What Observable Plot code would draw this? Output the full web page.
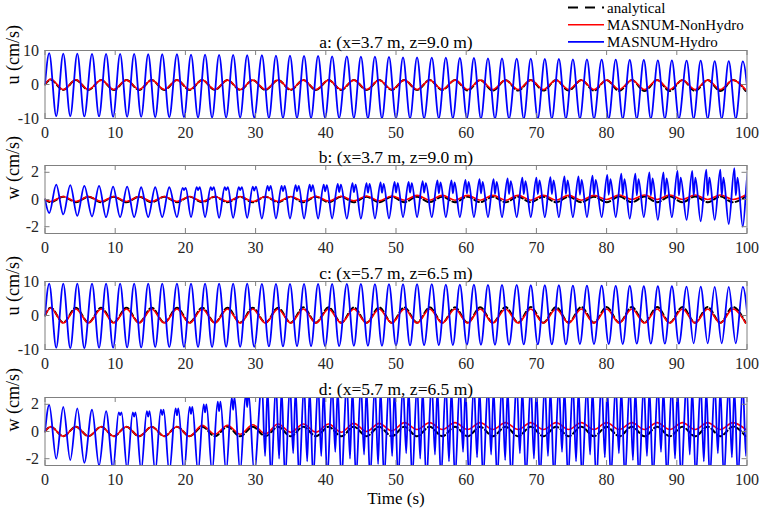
<!DOCTYPE html>
<html><head><meta charset="utf-8">
<script src="https://cdn.jsdelivr.net/npm/d3@7"></script>
<script src="https://cdn.jsdelivr.net/npm/@observablehq/plot@0.6"></script>
<style>
body{margin:0;background:#fff;}
#chart{position:relative;width:760px;height:509px;overflow:hidden;font-family:"Liberation Serif","Times New Roman",serif;}
.panel{position:absolute;left:0;}
#legend{position:absolute;left:0;top:0;}
</style></head><body><div id="chart"></div>
<script>
// ---------- shared axis values ----------
const timeTicks = [0,10,20,30,40,50,60,70,80,90,100];
const uTicks = [-10,0,10];
const wTicks = [-2,0,2];
const titles = ["a: (x=3.7 m, z=9.0 m)","b: (x=3.7 m, z=9.0 m)","c: (x=5.7 m, z=6.5 m)","d: (x=5.7 m, z=6.5 m)"];
const yLabels = ["u (cm/s)","w (cm/s)","u (cm/s)","w (cm/s)"];
const seriesNames = ["analytical","MASNUM-NonHydro","MASNUM-Hydro"];

// times of the Hydro wave crests (s)
const crestT = [0.6,2.6,4.6,6.7,8.7,10.7,12.7,14.7,16.7,18.8,20.8,22.8,24.8,26.8,28.8,30.9,32.9,34.9,36.9,38.9,
  40.9,43.0,45.0,47.0,49.0,51.0,53.0,55.1,57.1,59.1,61.1,63.1,65.1,67.2,69.2,71.2,73.2,75.2,77.2,79.3,
  81.3,83.3,85.3,87.3,89.3,91.4,93.4,95.4,97.4,99.4];
// times of NonHydro / analytical extrema (s)
const nhT = [0.8,2.6,4.4,6.2,8.0,9.8,11.6,13.4,15.2,17.0,18.8,20.6,22.4,24.2,26.0,27.8,29.6,31.4,33.2,35.0,
  36.8,38.6,40.4,42.2,44.0,45.8,47.6,49.4,51.2,53.0,54.8,56.6,58.4,60.2,62.0,63.8,65.6,67.4,69.2,71.0,
  72.8,74.6,76.4,78.2,80.0,81.8,83.6,85.4,87.2,89.0,90.8,92.6,94.4,96.2,98.0,99.8];

// ---------- panel a ----------
const aHydroCrest = [9.2,9.1,9.1,9.0,9.0,9.0,9.0,8.9,8.9,8.9,8.8,8.8,8.7,8.7,8.6,8.6,8.5,8.5,8.4,8.4,
  8.3,8.3,8.2,8.2,8.1,8.0,8.0,7.9,7.9,7.8,7.8,7.7,7.7,7.6,7.6,7.5,7.5,7.4,7.4,7.3,
  7.3,7.2,7.2,7.1,7.1,7.0,7.0,6.9,6.9,6.8];
const aHydroTrough = [-9.3,-9.3,-9.4,-9.4,-9.5,-9.5,-9.5,-9.6,-9.6,-9.6,-9.7,-9.7,-9.7,-9.7,-9.7,-9.8,-9.8,-9.8,-9.8,-9.8,
  -9.8,-9.8,-9.9,-9.9,-9.9,-9.9,-9.9,-9.9,-9.9,-9.9,-10,-10,-10,-10,-10,-10,-10,-10,-10,-10,
  -10,-10,-10,-10,-10,-10,-10,-10,-10,-10];
const aNonHydro = [1.6,-1.5,1.4,-1.5,1.3,-1.5,1.3,-1.5,1.3,-1.5,1.3,-1.5,1.3,-1.5,1.3,-1.5,1.3,-1.5,1.3,-1.5,
  1.3,-1.5,1.3,-1.5,1.3,-1.5,1.3,-1.5,1.3,-1.5,1.3,-1.5,1.3,-1.5,1.3,-1.5,1.3,-1.5,1.3,-1.5,
  1.3,-1.5,1.3,-1.5,1.3,-1.5,1.3,-1.5,1.3,-1.5,1.3,-1.5,1.3,-1.5,1.3,-1.5];
const aAnalytical = [1.4,-1.6,1.3,-1.6,1.3,-1.6,1.3,-1.6,1.3,-1.6,1.3,-1.6,1.3,-1.6,1.3,-1.6,1.3,-1.6,1.3,-1.6,
  1.3,-1.6,1.3,-1.6,1.3,-1.6,1.3,-1.6,1.3,-1.6,1.3,-1.6,1.3,-1.8,1.3,-1.8,1.3,-1.8,1.3,-1.8,
  1.3,-1.8,1.3,-1.8,1.3,-1.9,1.3,-1.9,1.3,-1.9,1.3,-1.9,1.3,-1.9,1.3,-1.9];

// ---------- panel b (trough first, then a crest that splits into two spikes) ----------
const bHydroTrough = [-1.0,-1.1,-1.2,-1.25,-1.3,-1.3,-1.3,-1.3,-1.3,-1.3,-1.3,-1.3,-1.35,-1.35,-1.35,-1.4,-1.4,-1.4,-1.4,-1.4,
  -1.4,-1.4,-1.4,-1.4,-1.4,-1.3,-1.3,-1.3,-1.3,-1.3,-1.3,-1.3,-1.3,-1.3,-1.3,-1.3,-1.3,-1.3,-1.3,-1.3,
  -1.3,-1.4,-1.3,-1.5,-1.3,-1.5,-1.6,-1.5,-1.8,-2.0];
const bHydroPeakA = [1.1,1.05,1.0,1.0,0.95,0.95,0.9,0.9,0.9,0.85,0.9,0.9,0.9,0.9,0.95,1.0,1.0,1.05,1.1,1.1,
  1.15,1.2,1.2,1.25,1.3,1.3,1.35,1.4,1.4,1.45,1.5,1.5,1.55,1.6,1.6,1.65,1.7,1.7,1.75,1.8,
  1.9,1.9,2.0,2.0,2.1,2.1,2.2,2.2,2.3,2.4];
const bHydroNotch = [null,null,null,null,null,null,null,null,null,0.7,0.7,0.7,0.7,0.7,0.65,0.65,0.6,0.6,0.6,0.6,
  0.55,0.55,0.5,0.5,0.5,0.5,0.5,0.45,0.45,0.45,0.45,0.4,0.4,0.4,0.4,0.4,0.4,0.35,0.35,0.35,
  0.35,0.3,0.3,0.3,0.3,0.3,0.3,0.3,0.3,0.3];
const bHydroPeakB = [null,null,null,null,null,null,null,null,null,0.85,0.9,0.9,0.9,0.9,0.95,1.0,1.0,1.0,1.05,1.05,
  1.1,1.1,1.15,1.15,1.2,1.2,1.2,1.25,1.25,1.3,1.3,1.3,1.35,1.35,1.4,1.4,1.4,1.45,1.45,1.5,
  1.5,1.5,1.55,1.55,1.6,1.6,1.6,1.6,1.6,1.6];
const bNonHydro = [-0.15,0.22,-0.15,0.22,-0.15,0.22,-0.15,0.22,-0.15,0.22,-0.15,0.22,-0.15,0.22,-0.15,0.22,-0.15,0.22,-0.15,0.22,
  -0.12,0.24,-0.12,0.24,-0.1,0.26,-0.1,0.26,-0.05,0.3,-0.05,0.3,-0.05,0.3,-0.05,0.3,-0.05,0.3,-0.05,0.3,
  -0.05,0.3,-0.05,0.3,0.0,0.33,0.0,0.33,0.0,0.33,0.0,0.33,0.0,0.33,0.0,0.33];
const bAnalytical = [-0.2,0.2,-0.2,0.2,-0.2,0.2,-0.2,0.2,-0.2,0.2,-0.2,0.2,-0.2,0.2,-0.2,0.2,-0.2,0.2,-0.2,0.2,
  -0.2,0.2,-0.2,0.2,-0.2,0.2,-0.2,0.2,-0.2,0.2,-0.2,0.2,-0.2,0.2,-0.2,0.2,-0.2,0.2,-0.2,0.2,
  -0.2,0.2,-0.2,0.2,-0.2,0.22,-0.2,0.22,-0.2,0.22,-0.2,0.22,-0.2,0.22,-0.2,0.22];

// ---------- panel c ----------
const cHydroCrest = [9.4,9.4,9.4,9.4,9.4,9.4,9.4,9.4,9.4,9.4,9.4,9.4,9.4,9.4,9.4,9.3,9.3,9.3,9.3,9.3,
  9.3,9.3,9.3,9.2,9.2,9.2,9.2,9.2,9.1,9.1,9.1,9.0,9.0,9.0,8.9,8.9,8.9,8.8,8.8,8.8,
  8.7,8.7,8.6,8.6,8.6,8.5,8.5,8.4,8.4,8.4];
const cHydroTrough = [-9.5,-9.6,-9.6,-9.5,-9.5,-9.4,-9.4,-9.3,-9.3,-9.3,-9.3,-9.3,-9.2,-9.2,-9.2,-9.1,-9.1,-9.0,-9.0,-9.0,
  -9.0,-8.9,-8.9,-8.9,-8.8,-8.8,-8.7,-8.7,-8.7,-8.6,-8.6,-8.6,-8.6,-8.5,-8.5,-8.5,-8.5,-8.4,-8.4,-8.4,
  -8.4,-8.3,-8.3,-8.3,-8.3,-8.2,-8.2,-8.2,-8.2,-8.2];
const cNonHydro = [2.2,-2.2,1.9,-2.2,1.9,-2.2,1.9,-2.2,1.9,-2.2,1.9,-2.2,1.9,-2.2,1.9,-2.2,1.9,-2.2,1.9,-2.2,
  1.9,-2.2,1.9,-2.2,1.9,-2.2,1.9,-2.2,1.9,-2.2,1.9,-2.2,1.9,-2.2,1.9,-2.2,1.9,-2.2,1.9,-2.2,
  1.9,-2.2,1.9,-2.2,1.9,-2.2,1.9,-2.2,1.9,-2.2,1.9,-2.2,1.9,-2.2,1.9,-2.2];
const cAnalytical = [2.3,-2.1,2.3,-2.1,2.3,-2.1,2.3,-2.1,2.3,-2.1,2.3,-2.1,2.3,-2.1,2.3,-2.1,2.3,-2.1,2.3,-2.1,
  2.4,-2.1,2.4,-2.1,2.4,-2.1,2.4,-2.1,2.4,-2.1,2.4,-2.1,2.4,-2.1,2.4,-2.1,2.5,-2.1,2.5,-2.1,
  2.5,-2.1,2.5,-2.1,2.5,-2.1,2.5,-2.1,2.5,-2.1,2.5,-2.1,2.5,-2.1,2.5,-2.1];

// ---------- panel d ----------
const dHydroCrest = [1.95,1.8,1.7,1.6,1.5,1.4,1.4,1.5,1.6,1.7,1.8,2.0,2.2,2.5,2.8,3.5,3.5,3.5,3.5,3.5,
  3.5,3.5,3.5,3.5,3.5,3.5,3.5,3.5,3.5,3.5,3.5,3.5,3.5,3.5,3.5,3.5,3.5,3.5,3.5,3.5,
  3.5,3.5,3.5,3.5,3.5,3.5,3.5,3.5,3.5,3.5];
const dHydroNotch = [null,null,null,null,null,1.2,1.1,1.1,1.2,1.2,1.3,1.4,1.5,1.6,1.8,null,null,null,null,null,
  null,null,null,null,null,null,null,null,null,null,null,null,null,null,null,null,null,null,null,null,
  null,null,null,null,null,null,null,null,null,null];
const dHydroMidTrough = [null,null,null,null,null,null,null,null,null,null,null,null,null,null,null,-1.8,-2.0,-1.6,-2.2,-1.8,
  -1.5,-2.0,-1.7,-2.4,-1.8,-1.6,-2.0,-1.7,-2.2,-1.5,-1.9,-1.7,-2.1,-1.6,-2.0,-1.8,-1.5,-2.2,-1.7,-1.9,
  -1.6,-2.1,-1.8,-1.5,-2.0,-1.7,-2.2,-1.6,-1.9,-1.8];
const dHydroCrest2 = [null,null,null,null,null,null,null,null,null,null,null,null,null,null,null,3.2,3.2,3.2,3.2,3.2,
  3.2,3.2,3.2,3.2,3.2,3.2,3.2,3.2,3.2,3.2,3.2,3.2,3.2,3.2,3.2,3.2,3.2,3.2,3.2,3.2,
  3.2,3.2,3.2,3.2,3.2,3.2,3.2,3.2,3.2,3.2];
const dHydroTrough = [-2.0,-2.1,-2.3,-2.5,-2.7,-2.8,-2.9,-3.0,-3.0,-3.0,-3.0,-3.0,-3.0,-3.0,-3.0,-3.5,-3.5,-3.5,-3.5,-3.5,
  -3.5,-3.5,-3.5,-3.5,-3.5,-3.5,-3.5,-3.5,-3.5,-3.5,-3.5,-3.5,-3.5,-3.5,-3.5,-3.5,-3.5,-3.5,-3.5,-3.5,
  -3.5,-3.5,-3.5,-3.5,-3.5,-3.5,-3.5,-3.5,-3.5,-3.5];
const dNonHydro = [0.35,-0.35,0.35,-0.35,0.35,-0.35,0.35,-0.35,0.35,-0.35,0.35,-0.35,0.45,-0.2,0.45,-0.2,0.5,-0.17,0.55,-0.05,
  0.55,-0.05,0.55,-0.05,0.6,0.0,0.6,0.05,0.65,0.15,0.65,0.15,0.65,0.15,0.65,0.15,0.65,0.15,0.65,0.15,
  0.65,0.15,0.65,0.15,0.65,0.15,0.65,0.15,0.65,0.15,0.65,0.15,0.65,0.15,0.65,0.15];
const dAnalytical = [0.35,-0.35,0.35,-0.35,0.35,-0.35,0.35,-0.35,0.35,-0.35,0.35,-0.35,0.35,-0.35,0.35,-0.35,0.35,-0.35,0.35,-0.35,
  0.35,-0.35,0.35,-0.35,0.35,-0.35,0.35,-0.35,0.35,-0.35,0.35,-0.35,0.35,-0.35,0.35,-0.35,0.35,-0.35,0.35,-0.35,
  0.35,-0.35,0.35,-0.35,0.35,-0.35,0.35,-0.35,0.35,-0.35,0.35,-0.35,0.35,-0.35,0.35,-0.35];

// ---------- build tables ----------
function fromExtrema(times, values) {
  return [{t: 0, v: 0}, ...times.map((t, i) => ({t, v: values[i]}))];
}
function crestTrough(crest, trough) {
  const out = [{t: 0, v: 0}];
  crestT.forEach((t, i) => { out.push({t, v: crest[i]}); out.push({t: t + 1.0, v: trough[i]}); });
  return out;
}
function bHydro() {
  const out = [{t: 0, v: 0}];
  crestT.forEach((t, i) => {
    out.push({t, v: bHydroTrough[i]});
    if (bHydroNotch[i] == null) out.push({t: t + 1.0, v: bHydroPeakA[i]});
    else {
      out.push({t: t + 0.8, v: bHydroPeakA[i]});
      out.push({t: t + 1.0, v: bHydroNotch[i]});
      out.push({t: t + 1.25, v: bHydroPeakB[i]});
    }
  });
  return out;
}
function dHydro() {
  const out = [{t: 0, v: 0}];
  crestT.forEach((t, i) => {
    if (dHydroNotch[i] == null) out.push({t, v: dHydroCrest[i]});
    else {
      out.push({t: t - 0.2, v: dHydroCrest[i]});
      out.push({t, v: dHydroNotch[i]});
      out.push({t: t + 0.2, v: dHydroCrest[i]});
    }
    if (dHydroCrest2[i] == null) out.push({t: t + 1.0, v: dHydroTrough[i]});
    else {
      out.push({t: t + 0.45, v: dHydroMidTrough[i]});
      out.push({t: t + 0.8, v: dHydroCrest2[i]});
      out.push({t: t + 1.3, v: dHydroTrough[i]});
    }
  });
  return out;
}

const panels = [
  {top: 28, y: [-10, 10], ticks: uTicks, ana: fromExtrema(nhT, aAnalytical), nh: fromExtrema(nhT, aNonHydro), hy: crestTrough(aHydroCrest, aHydroTrough)},
  {top: 143, y: [-2.5, 2.5], ticks: wTicks, ana: fromExtrema(nhT, bAnalytical), nh: fromExtrema(nhT, bNonHydro), hy: bHydro()},
  {top: 259, y: [-10, 10], ticks: uTicks, ana: fromExtrema(nhT, cAnalytical), nh: fromExtrema(nhT, cNonHydro), hy: crestTrough(cHydroCrest, cHydroTrough)},
  {top: 375, y: [-2.5, 2.5], ticks: wTicks, ana: fromExtrema(nhT, dAnalytical), nh: fromExtrema(nhT, dNonHydro), hy: dHydro()}
];

const chart = document.getElementById("chart");
const W = 760, ML = 44.5, MR = 13.5, MT = 22, H = 68;
const FW = W - ML - MR;
const font = '"Liberation Serif","Times New Roman",serif';
const axisGray = "#808080";

panels.forEach((p, i) => {
  const last = i === panels.length - 1;
  const MB = last ? 46 : 24;
  const svg = Plot.plot({
    width: W, height: MT + H + MB,
    marginLeft: ML, marginRight: MR, marginTop: MT, marginBottom: MB,
    style: {fontFamily: font, fontSize: "16px", color: "#262626", background: "transparent", overflow: "visible"},
    x: {domain: [0, 100], ticks: timeTicks, tickSize: 0, tickPadding: 8, label: null, tickFormat: d => String(d)},
    y: {domain: p.y, ticks: p.ticks, tickSize: 0, tickPadding: 6, label: null, tickFormat: d => String(d)},
    marks: [
      Plot.line(p.ana, {x: "t", y: "v", curve: "monotone-x", stroke: "#000", strokeWidth: 2, strokeDasharray: "5,3", clip: true}),
      Plot.line(p.nh, {x: "t", y: "v", curve: "monotone-x", stroke: "#ff0000", strokeWidth: 1.6, clip: true}),
      Plot.line(p.hy, {x: "t", y: "v", curve: "monotone-x", stroke: "#0000ff", strokeWidth: 1.8, clip: true}),
      Plot.ruleX(timeTicks, {x: d => d, insetTop: H - 5, stroke: axisGray}),
      Plot.ruleX(timeTicks, {x: d => d, insetBottom: H - 5, stroke: axisGray}),
      Plot.ruleY(p.ticks, {y: d => d, insetRight: FW - 5, stroke: axisGray}),
      Plot.ruleY(p.ticks, {y: d => d, insetLeft: FW - 5, stroke: axisGray}),
      Plot.frame({stroke: axisGray}),
      Plot.text([titles[i]], {text: d => d, frameAnchor: "top", lineAnchor: "middle", dy: -8.5, fontSize: 17.5, fill: "#000"}),
      Plot.text([yLabels[i]], {text: d => d, frameAnchor: "left", lineAnchor: "middle", dx: -32, rotate: -90, fontSize: 18, fill: "#000"}),
      last ? Plot.text(["Time (s)"], {text: d => d, frameAnchor: "bottom", lineAnchor: "middle", dy: 33, fontSize: 17, fill: "#000"}) : null
    ]
  });
  svg.classList.add("panel");
  svg.style.top = p.top + "px";
  chart.appendChild(svg);
});

// ---------- legend ----------
const legendColors = ["#000", "#ff0000", "#0000ff"];
const legendDash = ["10,7", null, null];
const ns = "http://www.w3.org/2000/svg";
const lg = document.createElementNS(ns, "svg");
lg.setAttribute("width", W); lg.setAttribute("height", 52);
lg.setAttribute("id", "legend");
seriesNames.forEach((name, i) => {
  const y = 7.5 + i * 17.2;
  const ln = document.createElementNS(ns, "line");
  ln.setAttribute("x1", 568); ln.setAttribute("x2", 604);
  ln.setAttribute("y1", y); ln.setAttribute("y2", y);
  ln.setAttribute("stroke", legendColors[i]);
  ln.setAttribute("stroke-width", i === 0 ? 2 : 1.6);
  if (legendDash[i]) ln.setAttribute("stroke-dasharray", legendDash[i]);
  lg.appendChild(ln);
  const tx = document.createElementNS(ns, "text");
  tx.setAttribute("x", 607); tx.setAttribute("y", y);
  tx.setAttribute("dy", "0.35em");
  tx.setAttribute("font-family", font);
  tx.setAttribute("font-size", 15);
  tx.textContent = name;
  lg.appendChild(tx);
});
chart.appendChild(lg);
</script></body></html>
